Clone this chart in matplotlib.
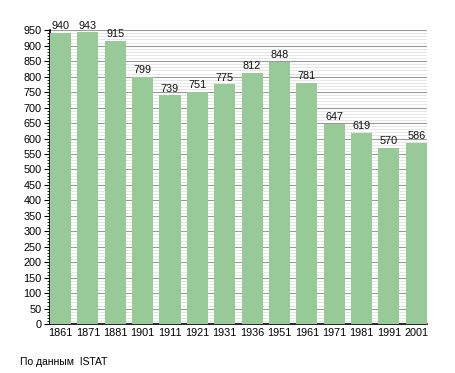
import matplotlib
matplotlib.use("Agg")
import matplotlib.pyplot as plt
from matplotlib.ticker import MultipleLocator

# Population by census year (ISTAT)
years = ["1861", "1871", "1881", "1901", "1911", "1921", "1931",
         "1936", "1951", "1961", "1971", "1981", "1991", "2001"]
population = [940, 943, 915, 799, 739, 751, 775, 812, 848, 781, 647, 619, 570, 586]
source_note = "По данным  ISTAT"

BAR_COLOR = "#97ca97"
BAR_WIDTH = 0.77

plt.rcParams["font.family"] = ["Liberation Sans", "DejaVu Sans"]
plt.rcParams["font.size"] = 7.8

fig = plt.figure(figsize=(4.55, 3.73), dpi=100)
ax = fig.add_axes([0.110, 0.131, 0.828, 0.788])

x = range(len(years))
bars = ax.bar(x, population, width=BAR_WIDTH, color=BAR_COLOR, zorder=3)

# value labels above each bar
for rect, val in zip(bars, population):
    ax.text(rect.get_x() + rect.get_width() / 2, val + 6, str(val),
            ha="center", va="bottom", fontsize=7.8, color="#111111", zorder=4)

ax.set_xlim(-BAR_WIDTH / 2, len(years) - 1 + BAR_WIDTH / 2)
ax.set_ylim(0, 950)
ax.set_xticks(list(x))
ax.set_xticklabels(years)
ax.tick_params(axis="x", length=0, pad=3)

ax.yaxis.set_major_locator(MultipleLocator(50))
ax.yaxis.set_minor_locator(MultipleLocator(10))
ax.tick_params(axis="y", which="major", length=4, width=0.8, pad=2)
ax.tick_params(axis="y", which="minor", length=2, width=0.6)

ax.grid(axis="y", which="major", color="#9a9a9a", linewidth=0.8, zorder=0)
ax.grid(axis="y", which="minor", color="#e2e2e2", linewidth=0.6, zorder=0)
ax.set_axisbelow(True)

for side in ["top", "right"]:
    ax.spines[side].set_visible(False)
ax.spines["left"].set_linewidth(1.2)
ax.spines["bottom"].set_linewidth(1.2)

fig.text(20 / 455, 1 - 362 / 373, source_note, fontsize=7.5, va="center", ha="left")

fig.savefig("out.png", dpi=100)
